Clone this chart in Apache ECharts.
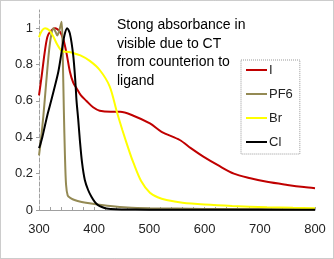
<!DOCTYPE html>
<html><head><meta charset="utf-8">
<script src="https://cdn.jsdelivr.net/npm/echarts@6/dist/echarts.min.js"></script>
<style>html,body{margin:0;padding:0;background:#fff}#c{width:334px;height:259px}</style>
</head><body><div id="c"></div>
<script>
const seriesNames = ['I', 'PF6', 'Br', 'Cl'];
const xTicks = [300, 400, 500, 600, 700, 800];
const yTicks = [0, 0.2, 0.4, 0.6, 0.8, 1];

const nmI = [300,305,310,315,320,329,338,344,350,356,362,368,376,386,398,410,430,447,470,501,522,555,575,597,625,653,683,713,750,780,800];
const absI = [0.63,0.74,0.86,0.95,0.98,1.0,0.98,0.94,0.86,0.76,0.70,0.67,0.63,0.60,0.565,0.546,0.54,0.54,0.52,0.476,0.43,0.385,0.34,0.295,0.245,0.2,0.175,0.155,0.138,0.126,0.12];

const nmPF6 = [300,304,308,313,318,322,326,330,333,337,341,343,345,347,349,352,356,362,370,385,400,429,460,500,600,700,800];
const absPF6 = [0.30,0.40,0.52,0.70,0.87,0.96,1.0,0.98,0.96,0.99,1.035,0.85,0.55,0.30,0.14,0.08,0.068,0.058,0.05,0.04,0.033,0.022,0.014,0.01,0.006,0.005,0.004];

const nmBr = [300,305,311,318,325,333,341,350,360,375,392,410,428,441,451,465,471,485,501,515,531,560,600,650,713,760,800];
const absBr = [0.95,0.985,1.0,0.99,0.96,0.91,0.875,0.87,0.865,0.85,0.82,0.77,0.68,0.54,0.44,0.31,0.26,0.16,0.095,0.07,0.055,0.04,0.03,0.022,0.015,0.012,0.01];

const nmCl = [300,302,306,311,315,320,327,335,341,346,351,356,362,366,368,371,374,378,383,389,395,401,407,415,422,430,450,500,800];
const absCl = [0.34,0.357,0.40,0.467,0.52,0.577,0.66,0.76,0.87,0.96,1.0,0.97,0.85,0.7,0.6,0.5,0.385,0.26,0.165,0.11,0.073,0.045,0.027,0.015,0.008,0.005,0.003,0.002,0.002];

const colors = ['#C00000', '#948A54', '#FFFF00', '#000000'];
const xs = [nmI, nmPF6, nmBr, nmCl];
const ys = [absI, absPF6, absBr, absCl];

const chart = echarts.init(document.getElementById('c'), null, {renderer: 'canvas'});
const font = 'Liberation Sans, Arial, sans-serif';
chart.setOption({
  animation: false,
  backgroundColor: '#fff',
  grid: {left: 39, right: 19, top: 10, bottom: 49},
  xAxis: {
    type: 'value', min: 300, max: 800, interval: 100,
    axisLine: {show: true, lineStyle: {color: '#A0A0A0', width: 1}},
    axisTick: {show: true, inside: true, length: 3, lineStyle: {color: '#A0A0A0'}},
    minorTick: {show: true, splitNumber: 5, length: 3, lineStyle: {color: '#A0A0A0'}},
    splitLine: {show: false},
    axisLabel: {color: '#222', fontSize: 13, fontFamily: font, margin: 13,
      formatter: v => xTicks.includes(v) ? String(v) : ''}
  },
  yAxis: {
    type: 'value', min: 0, max: 1.1, interval: 0.2,
    axisLine: {show: true, lineStyle: {color: '#A0A0A0', width: 1, type: 'dashed'}},
    axisTick: {show: true, length: 3, lineStyle: {color: '#A0A0A0'}},
    splitLine: {show: false},
    axisLabel: {color: '#222', fontSize: 13, fontFamily: font, margin: 6, showMaxLabel: false,
      formatter: v => { const t = yTicks.find(k => Math.abs(k - v) < 1e-6); return t === undefined ? '' : String(t); }}
  },
  legend: {
    orient: 'vertical', left: 241, top: 60,
    padding: [3, 7, 5, 5], itemGap: 10,
    borderColor: '#999', borderWidth: 1, borderType: 'dotted', backgroundColor: '#fff',
    itemWidth: 21, itemHeight: 2, icon: 'rect',
    textStyle: {fontSize: 13, fontFamily: font, color: '#222', lineHeight: 14, padding: [0,0,0,-3]},
    data: seriesNames.map((n, i) => ({name: n, itemStyle: {color: colors[i]}}))
  },
  series: seriesNames.map((n, i) => ({
    name: n, type: 'line', showSymbol: false, symbol: 'none',
    smooth: 0.3,
    lineStyle: {color: colors[i], width: 2},
    itemStyle: {color: colors[i]},
    z: [1, 2, 3, 4][i],
    data: xs[i].map((x, j) => [x, ys[i][j]])
  })),
  graphic: [
    {type: 'rect', shape: {x: 0.5, y: 0.5, width: 333, height: 258},
     style: {fill: 'none', stroke: '#999', lineWidth: 1, lineDash: [1, 1]}, silent: true, z: -1},
    {type: 'text', left: 117, top: 16,
     style: {text: 'Stong absorbance in\nvisible due to CT\nfrom counterion to\nligand',
       font: '14px Liberation Sans, Arial, sans-serif', fill: '#000', lineHeight: 18.5}}
  ]
});
</script></body></html>
